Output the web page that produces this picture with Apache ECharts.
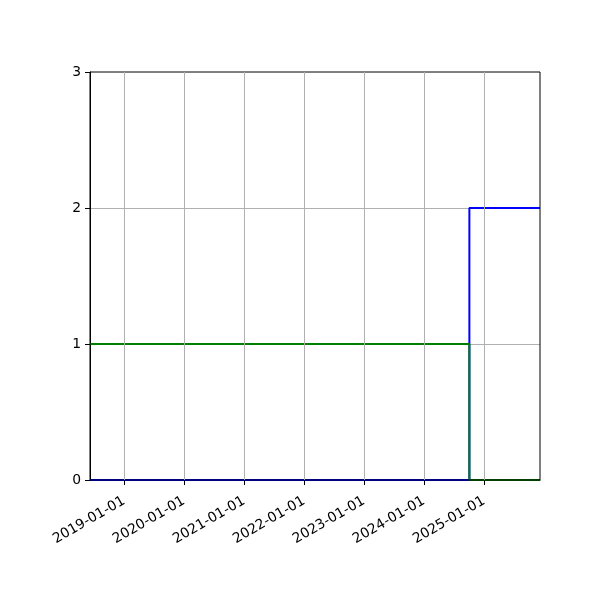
<!DOCTYPE html>
<html>
<head>
<meta charset="utf-8">
<script src="https://cdn.jsdelivr.net/npm/echarts@6/dist/echarts.min.js"></script>
<style>html,body{margin:0;padding:0;background:#fff}#c{width:600px;height:600px}</style>
</head>
<body>
<div id="c"></div>
<script>
var xStart = '2018-06-08';
var xEnd = '2025-12-08';
var stepDate = '2024-10-04';
var tickDates = ['2019-01-01','2020-01-01','2021-01-01','2022-01-01','2023-01-01','2024-01-01','2025-01-01'];
var yTicks = [0, 1, 2, 3];
var blueDates = [xStart, stepDate, xEnd];
var blueValues = [0, 2, 2];
var greenDates = [xStart, stepDate, xEnd];
var greenValues = [1, 0, 0];

function ts(d){ return new Date(d + 'T00:00:00Z').getTime(); }
function pairs(ds, vs){ return ds.map(function(d,i){ return [ts(d), vs[i]]; }); }
var tickTs = tickDates.map(ts);

var chart = echarts.init(document.getElementById('c'));
chart.setOption({
  animation: false,
  backgroundColor: '#fff',
  grid: { left: 90, right: 60, top: 72, bottom: 120, show: true, borderColor: '#000', borderWidth: 1, backgroundColor: 'transparent', z: 5 },
  xAxis: {
    type: 'value',
    min: ts(xStart), max: ts(xEnd),
    axisLine: { show: true, lineStyle: { color: '#000', width: 1 } },
    axisTick: { show: true, customValues: tickTs, length: 5, lineStyle: { color: '#000' } },
    splitLine: { show: false },
    axisLabel: {
      customValues: tickTs,
      rotate: 30, margin: 20, color: '#000', fontSize: 13.9, fontFamily: 'DejaVu Sans',
      formatter: function(v){ var i = tickTs.indexOf(v); return i >= 0 ? tickDates[i] : ''; }
    }
  },
  yAxis: {
    type: 'value', min: 0, max: 3, interval: 1,
    axisLine: { show: true, lineStyle: { color: '#000', width: 1 } },
    axisTick: { show: true, length: 5, lineStyle: { color: '#000' } },
    splitLine: { show: true, showMaxLine: false, lineStyle: { color: '#b0b0b0', width: 1 } },
    axisLabel: { color: '#000', fontSize: 13.9, fontFamily: 'DejaVu Sans', margin: 9,
      formatter: function(v){ return yTicks.indexOf(v) >= 0 ? String(v) : ''; } }
  },
  series: [
    { type: 'line', data: tickTs.map(function(t){ return [t, 0]; }), showSymbol: false, silent: true, lineStyle: { width: 0, opacity: 0 },
      markLine: { silent: true, symbol: 'none', label: { show: false }, lineStyle: { color: '#b0b0b0', width: 1, type: 'solid' },
        data: tickTs.map(function(t){ return { xAxis: t }; }) } },
    { type: 'line', step: 'end', data: pairs(blueDates, blueValues), showSymbol: false, lineStyle: { color: '#0000ff', width: 2 }, itemStyle: { color: '#0000ff' }, z: 3 },
    { type: 'line', step: 'end', data: pairs(greenDates, greenValues), showSymbol: false, lineStyle: { color: '#008000', width: 2 }, itemStyle: { color: '#008000' }, z: 4 }
  ]
});
</script>
</body>
</html>
